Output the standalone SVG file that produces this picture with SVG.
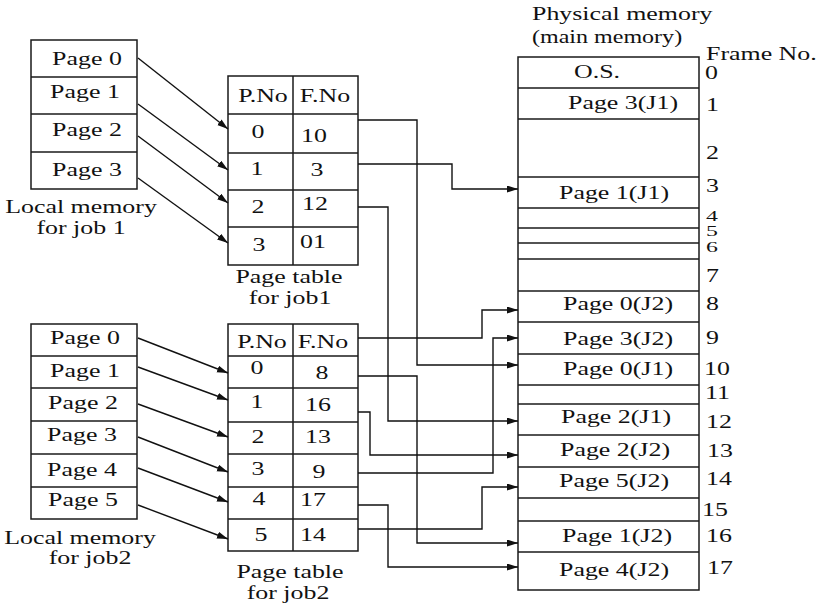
<svg xmlns="http://www.w3.org/2000/svg" width="821" height="609" viewBox="0 0 821 609">
<style>
.bx{fill:none;stroke:#1a1a1a;stroke-width:1.5}
.ln{stroke:#1a1a1a;stroke-width:1.5}
.c{fill:none;stroke:#111;stroke-width:1.4}
text{font-family:"Liberation Serif","Times New Roman",serif;font-size:18.5px;fill:#111}
.m{text-anchor:middle}
.s{text-anchor:start}
.sm{font-size:14px}
</style>
<defs>
<marker id="ah" markerWidth="12" markerHeight="8" refX="11" refY="3.5" orient="auto" markerUnits="userSpaceOnUse">
<path d="M0,0 L11,3.5 L0,7 z" fill="#111"/>
</marker>
</defs>
<rect width="821" height="609" fill="#fff"/>

<g id="local1">
<rect class="bx" x="31" y="40" width="106" height="149"/>
<line class="ln" x1="31" y1="77" x2="137" y2="77"/>
<line class="ln" x1="31" y1="114" x2="137" y2="114"/>
<line class="ln" x1="31" y1="152" x2="137" y2="152"/>
<text class="m" transform="translate(87,65) scale(1.4,1)">Page 0</text>
<text class="m" transform="translate(85,98) scale(1.4,1)">Page 1</text>
<text class="m" transform="translate(87,136) scale(1.4,1)">Page 2</text>
<text class="m" transform="translate(87,176) scale(1.4,1)">Page 3</text>
<text class="m" transform="translate(81,213) scale(1.4,1)">Local memory</text>
<text class="m" transform="translate(81,234) scale(1.4,1)">for job 1</text>
</g>

<g id="table1">
<rect class="bx" x="228" y="76" width="130" height="189"/>
<line class="ln" x1="293" y1="76" x2="293" y2="265"/>
<line class="ln" x1="228" y1="114" x2="358" y2="114"/>
<line class="ln" x1="228" y1="153" x2="358" y2="153"/>
<line class="ln" x1="228" y1="190" x2="358" y2="190"/>
<line class="ln" x1="228" y1="227" x2="358" y2="227"/>
<text class="m" transform="translate(263,102) scale(1.4,1)">P.No</text>
<text class="m" transform="translate(325,102) scale(1.4,1)">F.No</text>
<text class="m" transform="translate(258,138) scale(1.4,1)">0</text>
<text class="m" transform="translate(314,142) scale(1.4,1)">10</text>
<text class="m" transform="translate(257,175) scale(1.4,1)">1</text>
<text class="m" transform="translate(317,176) scale(1.4,1)">3</text>
<text class="m" transform="translate(258,213) scale(1.4,1)">2</text>
<text class="m" transform="translate(315,210) scale(1.4,1)">12</text>
<text class="m" transform="translate(259,251) scale(1.4,1)">3</text>
<text class="m" transform="translate(313,248) scale(1.4,1)">01</text>
<text class="m" transform="translate(289,283) scale(1.4,1)">Page table</text>
<text class="m" transform="translate(290,304) scale(1.4,1)">for job1</text>
</g>

<g id="physmem">
<rect class="bx" x="518" y="57" width="181" height="533"/>
<g class="ln">
<line x1="518" y1="88" x2="699" y2="88"/>
<line x1="518" y1="119" x2="699" y2="119"/>
<line x1="518" y1="177" x2="699" y2="177"/>
<line x1="518" y1="208" x2="699" y2="208"/>
<line x1="518" y1="228" x2="699" y2="228"/>
<line x1="518" y1="243" x2="699" y2="243"/>
<line x1="518" y1="259" x2="699" y2="259"/>
<line x1="518" y1="291" x2="699" y2="291"/>
<line x1="518" y1="322" x2="699" y2="322"/>
<line x1="518" y1="354" x2="699" y2="354"/>
<line x1="518" y1="385" x2="699" y2="385"/>
<line x1="518" y1="404" x2="699" y2="404"/>
<line x1="518" y1="435" x2="699" y2="435"/>
<line x1="518" y1="467" x2="699" y2="467"/>
<line x1="518" y1="498" x2="699" y2="498"/>
<line x1="518" y1="521" x2="699" y2="521"/>
<line x1="518" y1="552" x2="699" y2="552"/>
</g>
<text class="s" transform="translate(532,20) scale(1.4,1)">Physical memory</text>
<text class="s" transform="translate(532,43) scale(1.3,1)">(main memory)</text>
<text class="s" transform="translate(706,60) scale(1.4,1)">Frame No.</text>
<text class="m" transform="translate(597,78) scale(1.4,1)">O.S.</text>
<text class="m" transform="translate(623,109) scale(1.4,1)">Page 3(J1)</text>
<text class="m" transform="translate(614,199) scale(1.4,1)">Page 1(J1)</text>
<text class="m" transform="translate(618,310) scale(1.4,1)">Page 0(J2)</text>
<text class="m" transform="translate(618,345) scale(1.4,1)">Page 3(J2)</text>
<text class="m" transform="translate(618,375) scale(1.4,1)">Page 0(J1)</text>
<text class="m" transform="translate(616,423) scale(1.4,1)">Page 2(J1)</text>
<text class="m" transform="translate(615,456) scale(1.4,1)">Page 2(J2)</text>
<text class="m" transform="translate(614,487) scale(1.4,1)">Page 5(J2)</text>
<text class="m" transform="translate(617,542) scale(1.4,1)">Page 1(J2)</text>
<text class="m" transform="translate(614,576) scale(1.4,1)">Page 4(J2)</text>
<text class="s" transform="translate(705,79) scale(1.4,1)">0</text>
<text class="s" transform="translate(706,111) scale(1.4,1)">1</text>
<text class="s" transform="translate(706,159) scale(1.4,1)">2</text>
<text class="s" transform="translate(706,192) scale(1.4,1)">3</text>
<text class="s sm" transform="translate(706,221) scale(1.7,1)">4</text>
<text class="s sm" transform="translate(706,236) scale(1.7,1)">5</text>
<text class="s sm" transform="translate(706,252) scale(1.7,1)">6</text>
<text class="s" transform="translate(706,282) scale(1.4,1)">7</text>
<text class="s" transform="translate(706,310) scale(1.4,1)">8</text>
<text class="s" transform="translate(706,344) scale(1.4,1)">9</text>
<text class="s" transform="translate(704,375) scale(1.4,1)">10</text>
<text class="s" transform="translate(705,399) scale(1.4,1)">11</text>
<text class="s" transform="translate(706,428) scale(1.4,1)">12</text>
<text class="s" transform="translate(707,457) scale(1.4,1)">13</text>
<text class="s" transform="translate(706,485) scale(1.4,1)">14</text>
<text class="s" transform="translate(702,516) scale(1.4,1)">15</text>
<text class="s" transform="translate(706,542) scale(1.4,1)">16</text>
<text class="s" transform="translate(707,574) scale(1.4,1)">17</text>
</g>

<g id="local2">
<rect class="bx" x="31" y="324" width="106" height="195"/>
<line class="ln" x1="31" y1="356" x2="137" y2="356"/>
<line class="ln" x1="31" y1="388" x2="137" y2="388"/>
<line class="ln" x1="31" y1="421" x2="137" y2="421"/>
<line class="ln" x1="31" y1="454" x2="137" y2="454"/>
<line class="ln" x1="31" y1="487" x2="137" y2="487"/>
<text class="m" transform="translate(85,344) scale(1.4,1)">Page 0</text>
<text class="m" transform="translate(85,377) scale(1.4,1)">Page 1</text>
<text class="m" transform="translate(83,409) scale(1.4,1)">Page 2</text>
<text class="m" transform="translate(82,441) scale(1.4,1)">Page 3</text>
<text class="m" transform="translate(82,476) scale(1.4,1)">Page 4</text>
<text class="m" transform="translate(83,506) scale(1.4,1)">Page 5</text>
<text class="m" transform="translate(80,544) scale(1.4,1)">Local memory</text>
<text class="m" transform="translate(90,564) scale(1.4,1)">for job2</text>
</g>

<g id="table2">
<rect class="bx" x="228" y="324" width="130" height="227"/>
<line class="ln" x1="293" y1="324" x2="293" y2="551"/>
<line class="ln" x1="228" y1="356" x2="358" y2="356"/>
<line class="ln" x1="228" y1="388" x2="358" y2="388"/>
<line class="ln" x1="228" y1="422" x2="358" y2="422"/>
<line class="ln" x1="228" y1="454" x2="358" y2="454"/>
<line class="ln" x1="228" y1="487" x2="358" y2="487"/>
<line class="ln" x1="228" y1="519" x2="358" y2="519"/>
<text class="m" transform="translate(262,348) scale(1.4,1)">P.No</text>
<text class="m" transform="translate(323,348) scale(1.4,1)">F.No</text>
<text class="m" transform="translate(257,374) scale(1.4,1)">0</text>
<text class="m" transform="translate(322,379) scale(1.4,1)">8</text>
<text class="m" transform="translate(257,408) scale(1.4,1)">1</text>
<text class="m" transform="translate(318,411) scale(1.4,1)">16</text>
<text class="m" transform="translate(258,443) scale(1.4,1)">2</text>
<text class="m" transform="translate(318,443) scale(1.4,1)">13</text>
<text class="m" transform="translate(258,475) scale(1.4,1)">3</text>
<text class="m" transform="translate(319,478) scale(1.4,1)">9</text>
<text class="m" transform="translate(259,505) scale(1.4,1)">4</text>
<text class="m" transform="translate(313,506) scale(1.4,1)">17</text>
<text class="m" transform="translate(261,541) scale(1.4,1)">5</text>
<text class="m" transform="translate(313,541) scale(1.4,1)">14</text>
<text class="m" transform="translate(290,578) scale(1.4,1)">Page table</text>
<text class="m" transform="translate(288,599) scale(1.4,1)">for job2</text>
</g>

<g id="connectors" class="c" marker-end="url(#ah)">
<line x1="138" y1="58" x2="228" y2="129"/>
<line x1="138" y1="104" x2="228" y2="170"/>
<line x1="138" y1="136" x2="228" y2="203"/>
<line x1="138" y1="178" x2="228" y2="243"/>
<line x1="138" y1="338" x2="228" y2="373"/>
<line x1="138" y1="367" x2="228" y2="400"/>
<line x1="138" y1="404" x2="228" y2="437"/>
<line x1="138" y1="437" x2="228" y2="472"/>
<line x1="138" y1="468" x2="228" y2="502"/>
<line x1="138" y1="505" x2="228" y2="539"/>
<polyline points="358,120 417,120 417,365 518,365"/>
<polyline points="358,164 452,164 452,189 518,189"/>
<polyline points="358,207 388,207 388,421 518,421"/>
<polyline points="358,338 482,338 482,310 518,310"/>
<polyline points="358,473 493,473 493,338 518,338"/>
<polyline points="358,376 417,376 417,543 518,543"/>
<polyline points="358,412 370,412 370,455 518,455"/>
<polyline points="358,505 388,505 388,567 518,567"/>
<polyline points="358,529 482,529 482,487 518,487"/>
</g>
</svg>
